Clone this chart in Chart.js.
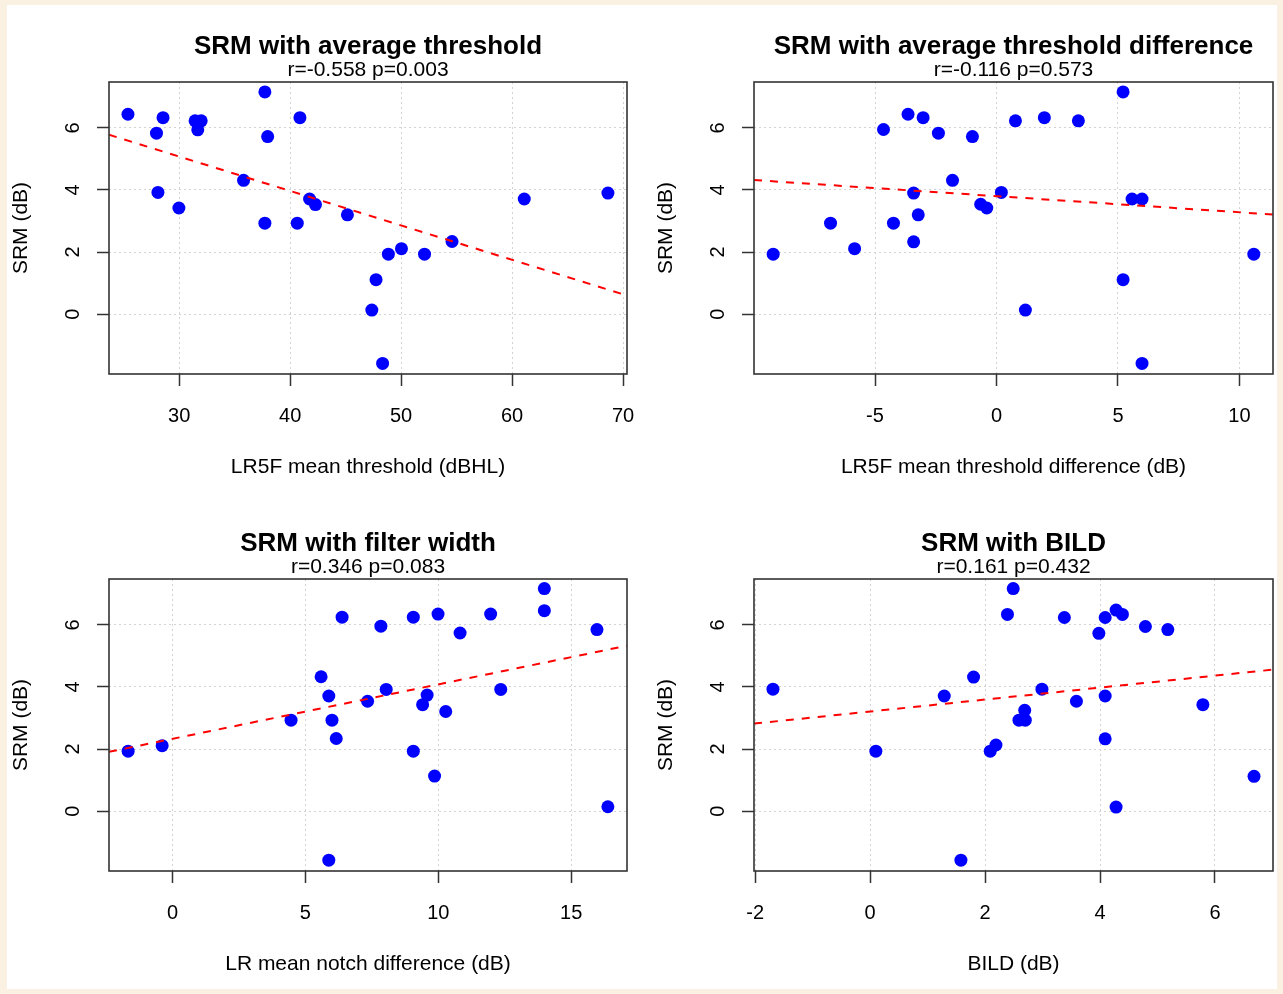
<!DOCTYPE html>
<html lang="en">
<head>
<meta charset="UTF-8">
<title>SRM correlations</title>
<script src="https://cdn.jsdelivr.net/npm/chart.js"></script>
<style>
  body { margin: 0; background: #fbf1e2; width: 1283px; height: 994px; overflow: hidden; position: relative; }
  .sheet { position: absolute; left: 7px; top: 5px; width: 1270px; height: 984px; background: #fff; }
  canvas { position: absolute; }
</style>
</head>
<body>
<div class="sheet"></div>
<canvas id="c1" width="645" height="497" style="left:0;top:0"></canvas>
<canvas id="c2" width="638" height="497" style="left:645px;top:0"></canvas>
<canvas id="c3" width="645" height="497" style="left:0;top:497px"></canvas>
<canvas id="c4" width="638" height="497" style="left:645px;top:497px"></canvas>

<script>
const FONT = '"Liberation Sans", Arial, sans-serif';

// SRM (dB) on every y axis
const srmTicks = [0, 2, 4, 6];

// top left: average threshold
const thrX = [25.38, 27.95, 28.54, 28.08, 29.97, 31.43, 31.98, 31.67, 37.72, 37.97, 35.80, 37.72, 40.88,
              40.64, 41.75, 42.28, 45.16, 48.85, 50.03, 52.11, 54.59, 47.74, 47.36, 48.33, 61.10, 68.64];
const thrY = [6.44, 5.83, 6.33, 3.92, 3.42, 6.23, 6.23, 5.94, 7.16, 5.72, 4.31, 2.93, 6.33,
              2.93, 3.71, 3.53, 3.20, 1.93, 2.11, 1.93, 2.34, 1.11, 0.13, -1.59, 3.71, 3.90];
const thrTicks = [30, 40, 50, 60, 70];
const thrFitY = [5.78, 0.60];

// top right: threshold difference
const diffX = [-9.19, -6.83, -5.84, -4.65, -3.64, -3.02, -2.39, -3.41, -3.22, -4.24, -3.41, -1.81, -0.99,
               -0.65, -0.40, 0.20, 0.78, 1.97, 3.37, 1.19, 5.21, 5.58, 5.99, 5.21, 5.99, 10.59];
const diffY = [1.93, 2.93, 2.11, 5.95, 6.44, 6.33, 5.83, 3.90, 3.20, 2.93, 2.33, 4.31, 5.72,
               3.54, 3.42, 3.92, 6.23, 6.33, 6.23, 0.13, 7.16, 3.71, 3.71, 1.11, -1.59, 1.93];
const diffTicks = [-5, 0, 5, 10];
const diffFitY = [4.32, 3.21];

// bottom left: notch difference
const notchX = [-1.67, -0.39, 4.46, 5.59, 5.88, 6.00, 6.16, 6.38, 5.88, 7.34, 7.84, 8.04, 9.06,
                9.06, 9.58, 9.41, 9.99, 9.86, 10.28, 10.82, 11.97, 12.35, 13.99, 13.99, 15.97, 16.38];
const notchY = [1.93, 2.11, 2.93, 4.33, 3.71, 2.93, 2.34, 6.25, -1.58, 3.54, 5.96, 3.92, 6.25,
                1.93, 3.74, 3.43, 6.35, 1.13, 3.21, 5.74, 6.35, 3.92, 7.17, 6.46, 5.85, 0.14];
const notchTicks = [0, 5, 10, 15];
const notchFitY = [1.91, 5.33];

// bottom right: BILD
const bildX = [-1.69, 0.10, 1.29, 1.80, 1.58, 2.09, 2.19, 2.39, 2.49, 2.59, 2.70, 2.69, 2.99,
               3.38, 3.59, 3.98, 4.09, 4.09, 4.09, 4.28, 4.39, 4.28, 4.79, 5.18, 5.79, 6.68];
const bildY = [3.93, 1.93, 3.71, 4.32, -1.58, 1.93, 2.13, 6.34, 7.17, 2.93, 2.93, 3.25, 3.93,
               6.24, 3.54, 5.73, 6.24, 3.71, 2.33, 6.48, 6.34, 0.13, 5.95, 5.85, 3.43, 1.12];
const bildTicks = [-2, 0, 2, 4, 6];
const bildFitY = [2.82, 4.56];

// frame, titles and rotated y labels like base R
const panelText = {
  id: 'panelText',
  afterDraw(chart, args, opts) {
    const { ctx, chartArea: a } = chart;
    const cx = (a.left + a.right) / 2;
    ctx.save();
    ctx.strokeStyle = '#333';
    ctx.lineWidth = 1.6;
    ctx.strokeRect(a.left, a.top, a.right - a.left, a.bottom - a.top);

    ctx.fillStyle = '#000';
    ctx.textAlign = 'center';
    ctx.textBaseline = 'middle';
    ctx.font = 'bold 26px ' + FONT;
    ctx.fillText(opts.title, cx, 47);
    ctx.font = '21px ' + FONT;
    ctx.fillText(opts.sub, cx, 70);

    const ys = chart.scales.y;
    ctx.font = '20px ' + FONT;
    ys.ticks.forEach(t => {
      ctx.save();
      ctx.translate(a.left - 36, ys.getPixelForValue(t.value));
      ctx.rotate(-Math.PI / 2);
      ctx.fillText(String(t.value), 0, 0);
      ctx.restore();
    });
    ctx.restore();
  }
};

function panel(id, o) {
  new Chart(document.getElementById(id), {
    type: 'scatter',
    data: {
      datasets: [
        {
          data: o.xs.map((x, i) => ({ x, y: o.ys[i] })),
          backgroundColor: '#0000ff',
          borderWidth: 0,
          pointRadius: 6.5,
          pointHoverRadius: 6.5,
          order: 1
        },
        {
          type: 'line',
          data: [{ x: o.xMin, y: o.fitY[0] }, { x: o.xMax, y: o.fitY[1] }],
          borderColor: '#ff0000',
          borderWidth: 2,
          borderDash: [8, 8],
          pointRadius: 0,
          fill: false,
          order: 0
        }
      ]
    },
    options: {
      responsive: false,
      animation: false,
      events: [],
      layout: { padding: { top: 82, left: 0, right: o.padR, bottom: 0 } },
      plugins: {
        legend: { display: false },
        tooltip: { enabled: false },
        panelText: { title: o.title, sub: o.sub }
      },
      scales: {
        x: {
          type: 'linear',
          position: 'bottom',
          min: o.xMin,
          max: o.xMax,
          afterBuildTicks: s => { s.ticks = o.xTicks.map(v => ({ value: v })); },
          afterFit: s => { s.height = 123; s.paddingLeft = 0; s.paddingRight = 0; },
          grid: { color: '#d3d3d3', lineWidth: 1, tickLength: 12, tickColor: '#333', tickWidth: 1.5, tickBorderDash: [] },
          border: { display: false, dash: [2, 3] },
          ticks: { color: '#000', font: { family: FONT, size: 20 }, padding: 18, maxRotation: 0, autoSkip: false,
                   callback: v => String(v) },
          title: { display: true, text: o.xLabel, color: '#000', font: { family: FONT, size: 21 },
                   padding: { top: 0, bottom: 17 } }
        },
        y: {
          type: 'linear',
          position: 'left',
          min: -1.93,
          max: 7.48,
          afterBuildTicks: s => { s.ticks = srmTicks.map(v => ({ value: v })); },
          afterFit: s => { s.width = 109; s.paddingTop = 0; s.paddingBottom = 0; },
          grid: { color: '#d3d3d3', lineWidth: 1, tickLength: 12, tickColor: '#333', tickWidth: 1.5, tickBorderDash: [] },
          border: { display: false, dash: [2, 3] },
          ticks: { display: false },
          title: { display: true, text: 'SRM (dB)', color: '#000', font: { family: FONT, size: 21 },
                   padding: { top: 9, bottom: 0 } }
        }
      }
    },
    plugins: [panelText]
  });
}

panel('c1', { xs: thrX, ys: thrY, xTicks: thrTicks, xMin: 23.67, xMax: 70.36, fitY: thrFitY, padR: 18,
  title: 'SRM with average threshold', sub: 'r=-0.558 p=0.003', xLabel: 'LR5F mean threshold (dBHL)' });
panel('c2', { xs: diffX, ys: diffY, xTicks: diffTicks, xMin: -9.98, xMax: 11.38, fitY: diffFitY, padR: 10,
  title: 'SRM with average threshold difference', sub: 'r=-0.116 p=0.573', xLabel: 'LR5F mean threshold difference (dB)' });
panel('c3', { xs: notchX, ys: notchY, xTicks: notchTicks, xMin: -2.39, xMax: 17.10, fitY: notchFitY, padR: 18,
  title: 'SRM with filter width', sub: 'r=0.346 p=0.083', xLabel: 'LR mean notch difference (dB)' });
panel('c4', { xs: bildX, ys: bildY, xTicks: bildTicks, xMin: -2.02, xMax: 7.01, fitY: bildFitY, padR: 10,
  title: 'SRM with BILD', sub: 'r=0.161 p=0.432', xLabel: 'BILD (dB)' });
</script>
</body>
</html>
